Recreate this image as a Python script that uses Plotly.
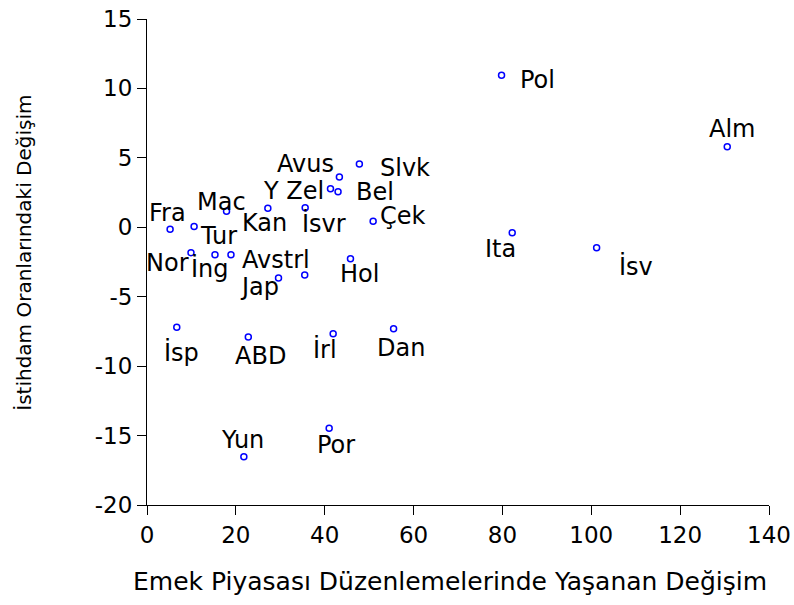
import plotly.graph_objects as go

# Country labels and their values
countries = ["Pol", "Alm", "Slvk", "Avus", "Y Zel", "Bel", "Mac", "Kan", "İsvr", "Çek",
             "Fra", "Tur", "Nor", "İng", "Avstrl", "Jap", "", "Hol", "Ita", "İsv",
             "İsp", "ABD", "İrl", "Dan", "Yun", "Por"]
labour_change = [79.8, 130.6, 47.8, 43.3, 41.3, 43.0, 17.9, 27.2, 35.6, 50.9,
                 5.2, 10.6, 9.9, 15.3, 18.9, 29.6, 35.5, 45.8, 82.2, 101.2,
                 6.7, 22.8, 41.9, 55.5, 21.8, 41.0]
employment_change = [10.95, 5.80, 4.56, 3.62, 2.78, 2.56, 1.15, 1.37, 1.41, 0.43,
                     -0.15, 0.05, -1.83, -1.97, -1.97, -3.65, -3.44, -2.26, -0.39, -1.47,
                     -7.20, -7.90, -7.66, -7.30, -16.52, -14.48]

x_ticks = [0, 20, 40, 60, 80, 100, 120, 140]
y_ticks = [-20, -15, -10, -5, 0, 5, 10, 15]
y_tick_text = ["-20", "-15", "-10", "-5", "0", "5", "10", "15"]

# label placement relative to the marker, in pixels (right, down)
label_offsets = {
    "Pol": (36, 5), "Alm": (5, -18), "Slvk": (46, 4), "Avus": (-34, -13),
    "Y Zel": (-37, 2), "Bel": (37, 0), "Mac": (-5, -9), "Kan": (-3, 15),
    "İsvr": (19, 16), "Çek": (30, -5), "Fra": (-3, -16), "Tur": (24, 9),
    "Nor": (-23, 10), "İng": (-5, 14), "Avstrl": (45, 5), "Jap": (-19, 9),
    "Hol": (9, 15), "Ita": (-12, 16), "İsv": (39, 19), "İsp": (5, 25),
    "ABD": (12, 19), "İrl": (-8, 16), "Dan": (7, 19), "Yun": (-1, -17),
    "Por": (7, 17),
}

FONT = "DejaVu Sans"

fig = go.Figure()
fig.add_trace(go.Scatter(
    x=labour_change, y=employment_change, mode="markers",
    marker=dict(symbol="circle-open", size=6, color="#0000ff", line=dict(width=1.5, color="#0000ff")),
    hoverinfo="text", text=countries, showlegend=False))

for name, xv, yv in zip(countries, labour_change, employment_change):
    if not name:
        continue
    dx, dy = label_offsets[name]
    fig.add_annotation(x=xv, y=yv, text=name, showarrow=False,
                       xshift=dx, yshift=-dy, xanchor="center", yanchor="middle",
                       font=dict(family=FONT, size=24, color="black"))

# axis titles
fig.add_annotation(text="Emek Piyasası Düzenlemelerinde Yaşanan Değişim",
                   xref="paper", yref="paper", x=0.487, y=-0.158, showarrow=False,
                   xanchor="center", yanchor="middle",
                   font=dict(family=FONT, size=25, color="black"))
fig.add_annotation(text="İstihdam Oranlarındaki Değişim",
                   xref="paper", yref="paper", x=-0.197, y=0.52, showarrow=False,
                   textangle=-90, xanchor="center", yanchor="middle",
                   font=dict(family=FONT, size=20, color="black"))

axis_style = dict(showline=True, linecolor="black", linewidth=1, ticks="outside",
                  ticklen=9, tickcolor="black", showgrid=False, zeroline=False,
                  automargin=False, ticklabeloverflow="allow",
                  tickfont=dict(family=FONT, size=23, color="black"))

fig.update_layout(
    width=794, height=605,
    margin=dict(l=147, r=25, t=19, b=100),
    plot_bgcolor="white", paper_bgcolor="white",
    xaxis=dict(range=[0, 140], tickvals=x_ticks, **axis_style),
    yaxis=dict(range=[-20, 15], tickvals=y_ticks, ticktext=y_tick_text, **axis_style),
)

# drop the browser's default body margin so the figure fills the window exactly
fig.write_html("out.html", config={"displayModeBar": False},
               post_script="document.body.style.margin='0';document.body.style.overflow='hidden';")
